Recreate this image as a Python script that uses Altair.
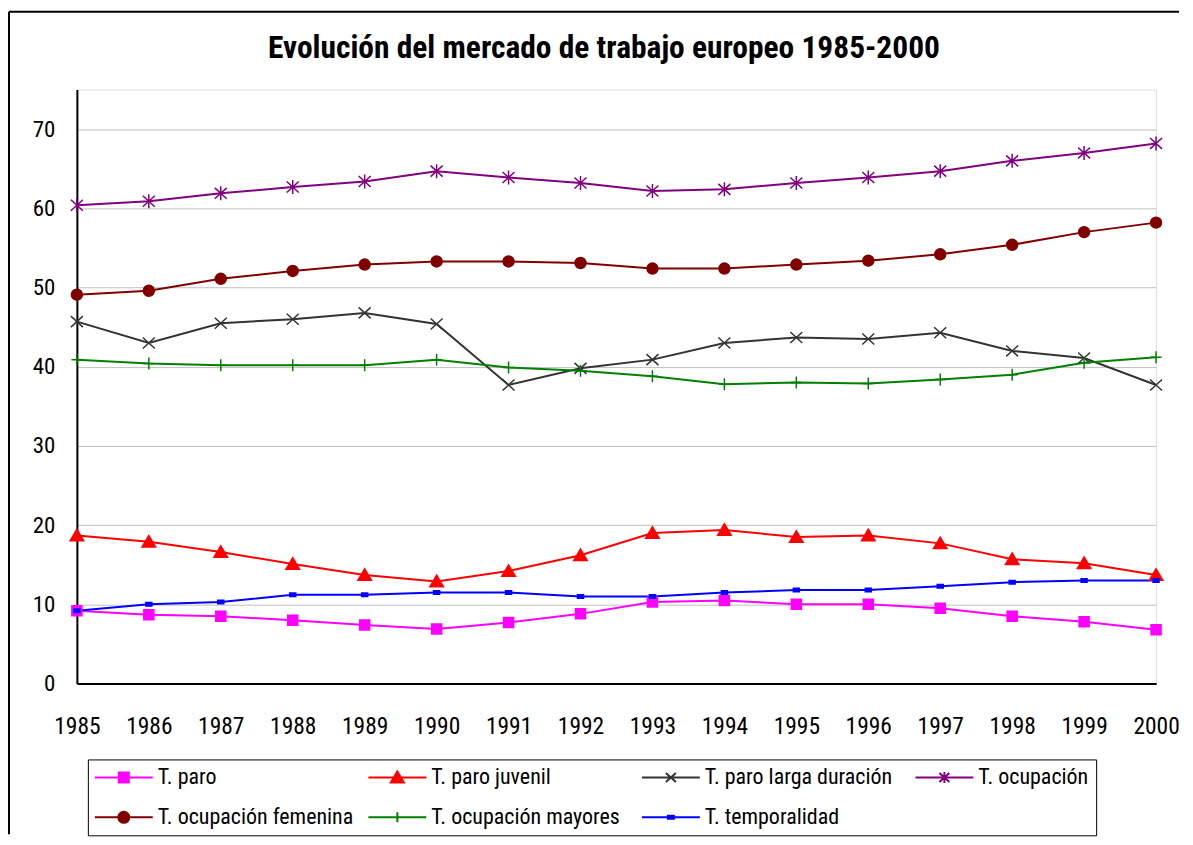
import altair as alt
import pandas as pd

# ---------------- data ----------------
years = list(range(1985, 2001))

serie_names = [
    "T. paro",
    "T. paro juvenil",
    "T. paro larga duración",
    "T. ocupación",
    "T. ocupación femenina",
    "T. ocupación mayores",
    "T. temporalidad",
]

paro = [9.2, 8.7, 8.5, 8.0, 7.4, 6.9, 7.7, 8.8, 10.3, 10.5, 10.0, 10.0, 9.5, 8.5, 7.8, 6.8]
paro_juvenil = [18.7, 17.9, 16.6, 15.1, 13.7, 12.9, 14.2, 16.2, 19.0, 19.4, 18.5, 18.7, 17.7, 15.7, 15.2, 13.7]
paro_larga = [45.7, 43.0, 45.5, 46.0, 46.8, 45.4, 37.7, 39.8, 40.9, 43.0, 43.7, 43.5, 44.3, 42.0, 41.1, 37.7]
ocupacion = [60.4, 60.9, 61.9, 62.7, 63.4, 64.7, 63.9, 63.2, 62.2, 62.4, 63.2, 63.9, 64.7, 66.0, 67.0, 68.2]
ocupacion_femenina = [49.1, 49.6, 51.1, 52.1, 52.9, 53.3, 53.3, 53.1, 52.4, 52.4, 52.9, 53.4, 54.2, 55.4, 57.0, 58.2]
ocupacion_mayores = [40.9, 40.4, 40.2, 40.2, 40.2, 40.9, 39.9, 39.5, 38.8, 37.8, 38.0, 37.9, 38.4, 39.0, 40.5, 41.2]
temporalidad = [9.2, 10.0, 10.3, 11.2, 11.2, 11.5, 11.5, 11.0, 11.0, 11.5, 11.8, 11.8, 12.3, 12.8, 13.0, 13.0]

y_ticks = [0, 10, 20, 30, 40, 50, 60, 70]
title_text = "Evolución del mercado de trabajo europeo 1985-2000"

# ---------------- styles ----------------
colors = ["#FF00FF", "#FF0000", "#333333", "#800080", "#800000", "#008000", "#0000FF"]

marker_paths = [
    "M-1,-1H1V1H-1Z",
    "M0,-1.25L1.35,1.05H-1.35Z",
    "M-1.2,-1.1L1.2,1.1M-1.2,1.1L1.2,-1.1",
    "M-1.2,-1.1L1.2,1.1M-1.2,1.1L1.2,-1.1M0,-1.4V1.4",
    "M-1.1,0A1.1,1.1,0,1,1,1.1,0A1.1,1.1,0,1,1,-1.1,0Z",
    "M0,-1.2V1.2M-1.1,0H1.1",
    "M-0.6,-0.35H0.6V0.35H-0.6Z",
]

legend_paths = [
    "M-2.9,0H2.9M-0.5,-0.5H0.5V0.5H-0.5Z",
    "M-2.9,0H2.9M0,-0.6L0.65,0.5H-0.65Z",
    "M-2.9,0H2.9M-0.5,-0.45L0.5,0.45M-0.5,0.45L0.5,-0.45",
    "M-2.9,0H2.9M-0.5,-0.45L0.5,0.45M-0.5,0.45L0.5,-0.45M0,-0.55V0.55",
    "M-2.9,0H2.9M-0.55,0A0.55,0.55,0,1,1,0.55,0A0.55,0.55,0,1,1,-0.55,0Z",
    "M-2.9,0H2.9M0,-0.5V0.5",
    "M-2.9,0H2.9M-0.3,-0.15H0.3V0.15H-0.3Z",
]

FONT = "Roboto Condensed, Liberation Sans Narrow, Arial Narrow, sans-serif"

rows = []
for name, vals in zip(serie_names, [paro, paro_juvenil, paro_larga, ocupacion,
                                    ocupacion_femenina, ocupacion_mayores, temporalidad]):
    for yr, v in zip(years, vals):
        rows.append({"year": yr, "serie": name, "value": v})
df = pd.DataFrame(rows)

x_enc = alt.X(
    "year:Q",
    scale=alt.Scale(domain=[1985, 2000], nice=False, zero=False),
    axis=alt.Axis(values=years, format="d", title=None, ticks=False, grid=False,
                  labelFont=FONT, labelFontSize=23.5, labelColor="black", labelPadding=31,
                  labelFlush=False, labelOverlap=False, domainColor="black", domainWidth=2),
)
y_enc = alt.Y(
    "value:Q",
    scale=alt.Scale(domain=[0, 75], nice=False),
    axis=alt.Axis(values=y_ticks, title=None, ticks=False, grid=True, gridColor="#C0C0C0",
                  gridWidth=1, labelFont=FONT, labelFontSize=23, labelColor="black",
                  labelPadding=22, domainColor="black", domainWidth=2),
)

base = alt.Chart(df)

lines = base.mark_line(strokeWidth=2).encode(
    x=x_enc, y=y_enc,
    color=alt.Color("serie:N", scale=alt.Scale(domain=serie_names, range=colors), legend=None),
    detail="serie:N",
)

points = base.mark_point(size=100, opacity=1, strokeWidth=1.5).encode(
    x=x_enc, y=y_enc,
    shape=alt.Shape("serie:N", scale=alt.Scale(domain=serie_names, range=marker_paths), legend=None),
    fill=alt.Fill("serie:N", scale=alt.Scale(domain=serie_names, range=colors), legend=None),
    stroke=alt.Stroke("serie:N", scale=alt.Scale(domain=serie_names, range=colors), legend=None),
)

# the last legend column is widened with trailing no-break spaces so the box spans like the reference
leg = alt.Legend(
    title=None, orient="none", legendX=11, legendY=671, direction="horizontal", columns=4,
    gridAlign="all", strokeColor="black", padding=7, fillColor="white",
    labelFont=FONT, labelFontSize=22, labelColor="black", labelLimit=500, labelOffset=23,
    labelExpr="datum.label == 'T. ocupación' ? datum.label + '\u00a0\u00a0\u00a0\u00a0\u00a0\u00a0\u00a0' : datum.label",
    symbolSize=400, symbolOffset=18, symbolStrokeWidth=2, symbolOpacity=1,
    rowPadding=18, columnPadding=11,
)

legend_layer = base.mark_point(size=400, opacity=0).encode(
    x=x_enc, y=y_enc,
    shape=alt.Shape("serie:N", scale=alt.Scale(domain=serie_names, range=legend_paths), legend=leg),
    fill=alt.Fill("serie:N", scale=alt.Scale(domain=serie_names, range=colors), legend=leg),
    stroke=alt.Stroke("serie:N", scale=alt.Scale(domain=serie_names, range=colors), legend=leg),
)

frame_data = alt.Data(values=[{"k": 1}])
frame_top = alt.Chart(frame_data).mark_rule(color="black", strokeWidth=2).encode(
    x=alt.value(-68), x2=alt.value(1104), y=alt.value(-78)
)
frame_left = alt.Chart(frame_data).mark_rule(color="black", strokeWidth=2).encode(
    x=alt.value(-68), y=alt.value(-78), y2=alt.value(746)
)

title_layer = alt.Chart(alt.Data(values=[{"t": title_text}])).mark_text(
    font=FONT, fontSize=31.5, fontWeight="bold", color="black", align="center", baseline="alphabetic"
).encode(text="t:N", x=alt.value(528), y=alt.value(-32))

chart = alt.layer(frame_top, frame_left, title_layer, lines, points, legend_layer).resolve_scale(
    shape="independent", fill="independent", stroke="independent"
).properties(
    width=1081,
    height=595,
    padding={"left": 0, "top": 2, "right": 0, "bottom": 0},
).configure_view(
    fill="#FFCC99", stroke="#999999", strokeWidth=2
).configure_legend(
    strokeWidth=2
).configure(background="white")

chart.save("out.html", embed_options={"renderer": "svg", "actions": False})
